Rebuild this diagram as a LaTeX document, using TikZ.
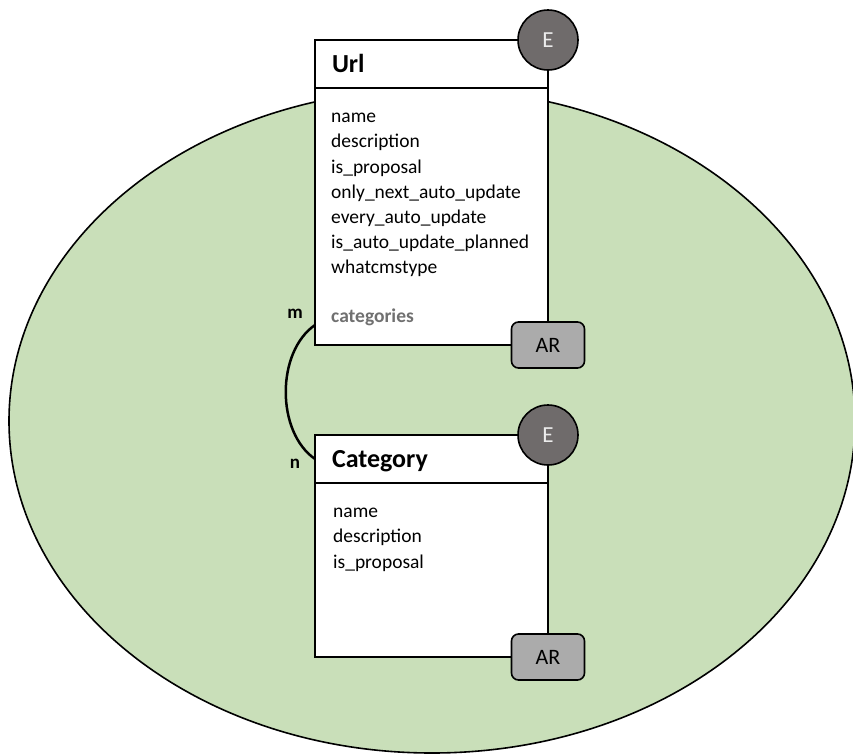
\documentclass[tikz,border=0pt]{standalone}
\usepackage{fontspec}
\setmainfont{Carlito}
\usepackage{xcolor}
\usepackage{tikz}
\usetikzlibrary{positioning,calc}

\definecolor{aggrgreen}{RGB}{201,223,185}
\definecolor{entgray}{RGB}{111,107,107}
\definecolor{entletter}{RGB}{236,236,236}
\definecolor{argray}{RGB}{171,171,171}
\definecolor{relgray}{RGB}{112,112,112}

\tikzset{
	enthead/.style={draw, line width=2pt, fill=white, anchor=north west, outer sep=0pt, minimum height=48pt,
		text width=199pt, inner xsep=17pt, align=left, text height=17pt, text depth=0pt,
		font=\fontsize{26}{30}\selectfont\bfseries},
	entbody/.style={draw, line width=2pt, fill=white, anchor=north west, outer sep=0pt, minimum width=233pt},
	attrs/.style={anchor=north west, inner sep=0pt, align=left, font=\fontsize{19.5}{25.2}\selectfont},
	ebadge/.style={circle, draw, line width=1.6pt, fill=entgray, text=entletter, minimum size=60pt,
		inner sep=0pt, font=\fontsize{23}{26}\selectfont},
	arbadge/.style={draw, line width=1.6pt, fill=argray, rounded corners=7pt, minimum width=73pt,
		minimum height=46pt, inner sep=0pt, font=\fontsize{22}{26}\selectfont},
	card/.style={font=\fontsize{19}{22}\selectfont\bfseries, inner sep=0pt}
}

\begin{document}
\begin{tikzpicture}[x=1pt, y=-1pt]
	\useasboundingbox (0,0) rectangle (853,755);
	% aggregate
	\draw [fill=aggrgreen, line width=1.6pt] (432,421) ellipse [x radius=423, y radius=332];

	% Url entity
	\node [enthead] (url-head) at (315,40) {Url};
	\node [entbody, minimum height=257pt] (url-body) at (url-head.south west) {};
	\node [attrs] (url-attrs) at ([xshift=16pt,yshift=-25pt]url-body.north west)
		{name\\ description\\ is\_proposal\\ only\_next\_auto\_update\\ every\_auto\_update\\
		 is\_auto\_update\_planned\\ whatcmstype\\[23pt] \textcolor{relgray}{\bfseries categories}};
	\node [ebadge] (url-e) at (url-head.north east) {E};
	\node [arbadge] (url-ar) at (url-body.south east) {AR};

	% Category entity
	\node [enthead] (cat-head) at (315,435) {Category};
	\node [entbody, minimum height=174pt] (cat-body) at (cat-head.south west) {};
	\node [attrs] (cat-attrs) at ([xshift=18pt,yshift=-25pt]cat-body.north west)
		{name\\ description\\ is\_proposal};
	\node [ebadge] (cat-e) at (cat-head.north east) {E};
	\node [arbadge] (cat-ar) at (cat-body.south east) {AR};

	% m:n relation
	\coordinate (url-m) at ([yshift=20pt]url-body.south west);
	\draw [line width=2.5pt] (url-m) .. controls +(-39,27) and +(-39,-27) .. (cat-head.west);
	\node [card] (m) at (295,314) {m};
	\node [card] (n) at (295,464) {n};
\end{tikzpicture}
\end{document}
